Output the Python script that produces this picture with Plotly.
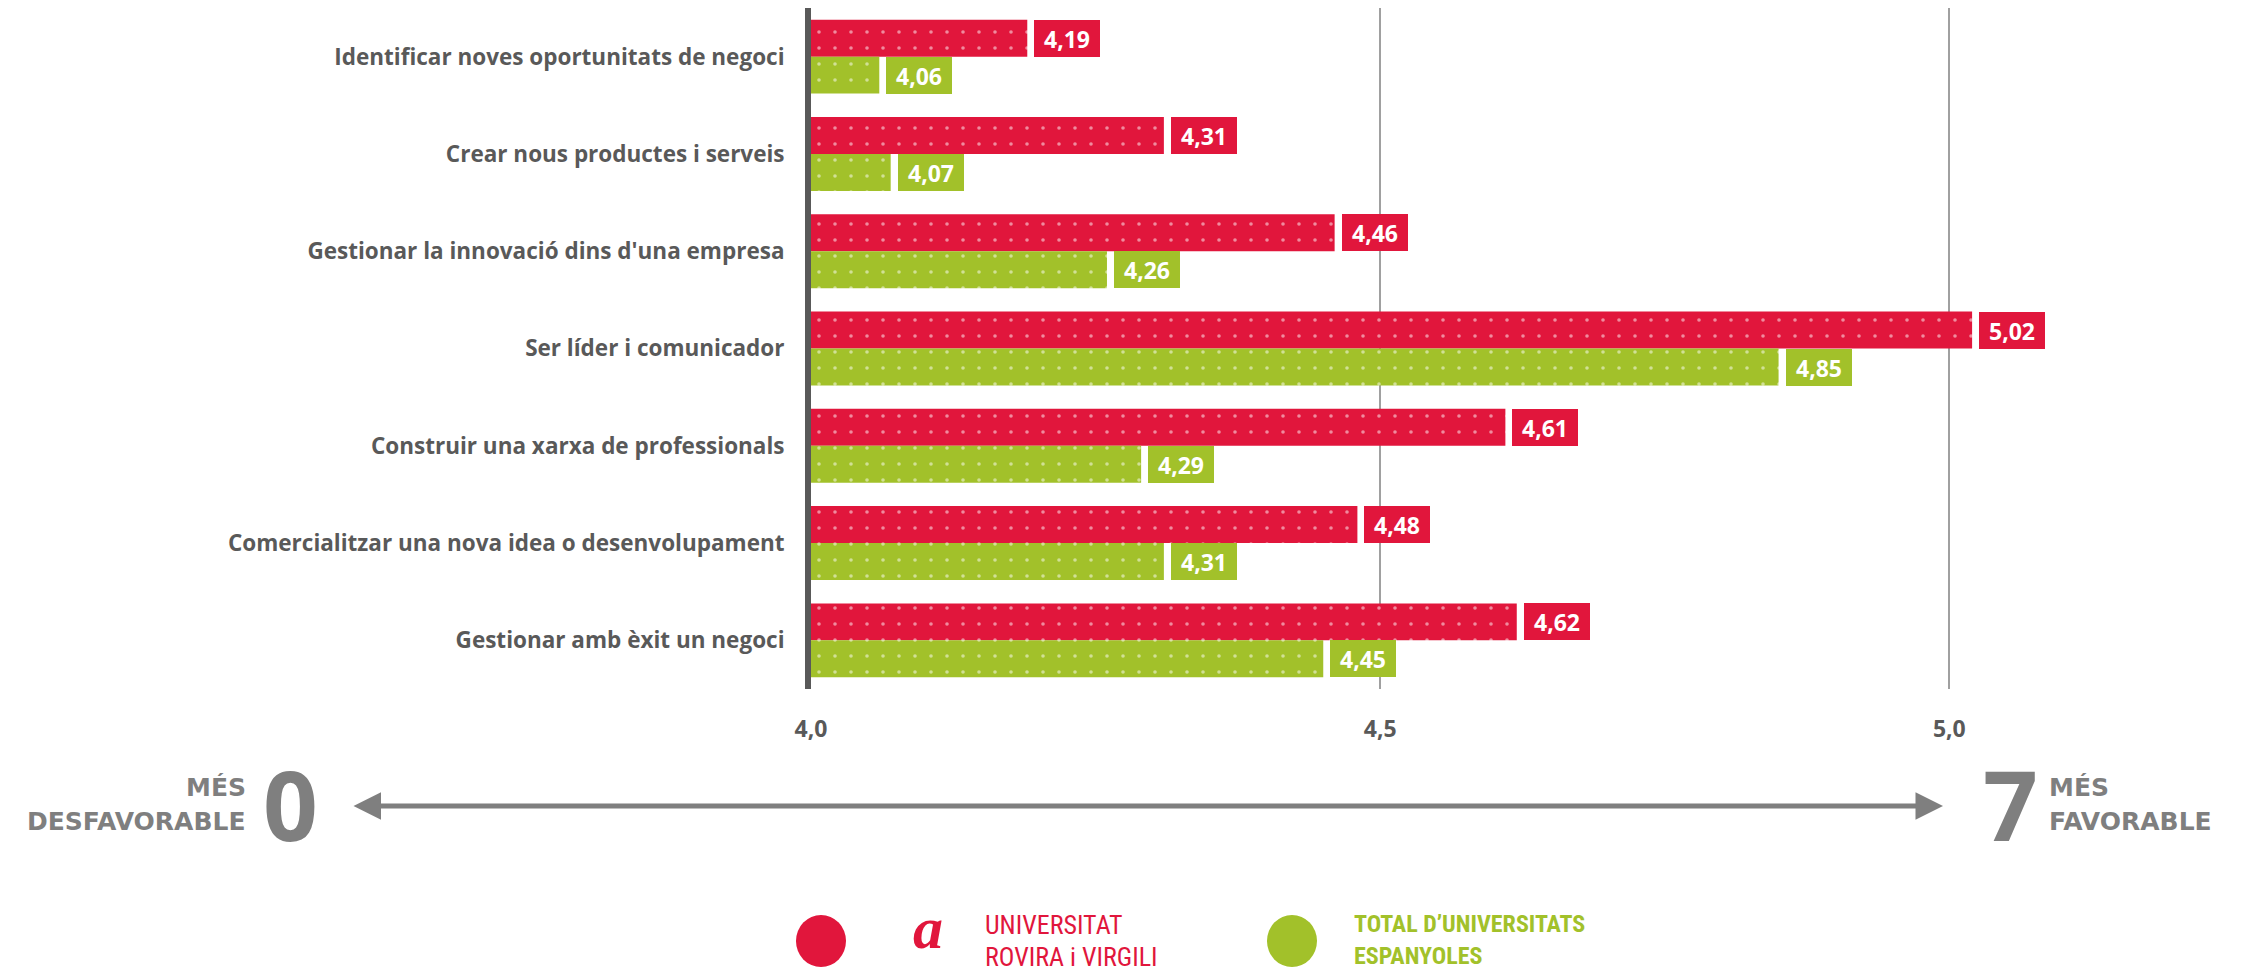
import plotly.graph_objects as go

# categories top to bottom
categories = [
    "Identificar noves oportunitats de negoci",
    "Crear nous productes i serveis",
    "Gestionar la innovació dins d'una empresa",
    "Ser líder i comunicador",
    "Construir una xarxa de professionals",
    "Comercialitzar una nova idea o desenvolupament",
    "Gestionar amb èxit un negoci",
]
urv_values = [4.19, 4.31, 4.46, 5.02, 4.61, 4.48, 4.62]
spain_values = [4.06, 4.07, 4.26, 4.85, 4.29, 4.31, 4.45]
x_ticks = [4.0, 4.5, 5.0]
x_tick_text = ["4,0", "4,5", "5,0"]

RED = "#E1163C"
GREEN = "#A2C12A"
GREY = "#595959"
LIGHT_GREY = "#7F7F7F"
FONT = "'Open Sans', Lato, sans-serif"
WIDE = "'DejaVu Sans', sans-serif"
NARROW = "'Liberation Sans Narrow', 'Roboto Condensed', sans-serif"

# the page body has an 8px margin, so the figure sits at (8, 8)
OFF = 8
W, H = 2252 - OFF, 973 - OFF
L, R, T, B = 803, 75, 0, 284
PW, PH = W - L - R, H - T - B


def xp(px):
    # screen pixel -> paper coordinate
    return (px - OFF - L) / PW


def yp(py):
    return (T + PH - (py - OFF)) / PH


def fmt(v):
    return f"{v:.2f}".replace(".", ",")


fig = go.Figure()

for name, vals, col in [("URV", urv_values, RED), ("Total", spain_values, GREEN)]:
    fig.add_trace(go.Bar(
        y=categories, x=vals, name=name, orientation="h",
        marker=dict(color=col, line=dict(width=0),
                    pattern=dict(shape=".", fgcolor="white", size=16, solidity=0.04)),
        showlegend=False, hoverinfo="x+y",
    ))

# value boxes next to bar ends
annotations = []
for vals, col, shift in [(urv_values, RED, 18.5), (spain_values, GREEN, -18.5)]:
    for cat, v in zip(categories, vals):
        annotations.append(dict(
            x=v, y=cat, xref="x", yref="y", xanchor="left", yanchor="middle",
            xshift=7, yshift=shift, text=f"<b>{fmt(v)}</b>", showarrow=False,
            bgcolor=col, width=66, height=37, borderpad=0, borderwidth=0,
            font=dict(family=FONT, size=23, color="white"),
        ))

# scale explanation underneath
grey_font = dict(family=WIDE, color=LIGHT_GREY)
big_font = dict(family=FONT, size=96, color=LIGHT_GREY)
annotations += [
    dict(x=xp(1943), y=yp(806), xref="paper", yref="paper", text="",
         showarrow=True, axref="pixel", ayref="pixel", ax=-(1943 - 352), ay=0,
         arrowhead=2, arrowside="end+start", arrowwidth=5, arrowsize=1.1,
         arrowcolor=LIGHT_GREY),
    dict(x=xp(248), y=yp(787), xref="paper", yref="paper", xanchor="right",
         yanchor="middle", showarrow=False, text="<b>MÉS</b>",
         font=dict(size=25, **grey_font)),
    dict(x=xp(248), y=yp(821), xref="paper", yref="paper", xanchor="right",
         yanchor="middle", showarrow=False, text="<b>DESFAVORABLE</b>",
         font=dict(size=25, **grey_font)),
    dict(x=xp(290), y=yp(803), xref="paper", yref="paper", xanchor="center",
         yanchor="middle", showarrow=False, text="<b>0</b>", font=big_font),
    dict(x=xp(2010), y=yp(803), xref="paper", yref="paper", xanchor="center",
         yanchor="middle", showarrow=False, text="<b>7</b>", font=big_font),
    dict(x=xp(2047), y=yp(787), xref="paper", yref="paper", xanchor="left",
         yanchor="middle", showarrow=False, text="<b>MÉS</b>",
         font=dict(size=25, **grey_font)),
    dict(x=xp(2047), y=yp(821), xref="paper", yref="paper", xanchor="left",
         yanchor="middle", showarrow=False, text="<b>FAVORABLE</b>",
         font=dict(size=25, **grey_font)),
]

# custom legend (the URV emblem is only hinted at with a red italic "a")
annotations.append(dict(
    x=xp(928), y=yp(928), xref="paper", yref="paper", xanchor="center",
    yanchor="middle", showarrow=False, text="<b><i>a</i></b>",
    font=dict(family="Liberation Serif, serif", size=60, color=RED)))
for line, py in [("UNIVERSITAT", 925), ("ROVIRA i VIRGILI", 957)]:
    annotations.append(dict(
        x=xp(983), y=yp(py), xref="paper", yref="paper", xanchor="left",
        yanchor="middle", showarrow=False, text=line,
        font=dict(family=NARROW, size=26, color=RED)))
for line, py in [("TOTAL D’UNIVERSITATS", 924), ("ESPANYOLES", 956)]:
    annotations.append(dict(
        x=xp(1352), y=yp(py), xref="paper", yref="paper", xanchor="left",
        yanchor="middle", showarrow=False, text=f"<b>{line}</b>",
        font=dict(family=NARROW, size=24, color=GREEN)))

shapes = []
for cx, col in [(821, RED), (1292, GREEN)]:
    shapes.append(dict(
        type="circle", xref="paper", yref="paper", xsizemode="pixel", ysizemode="pixel",
        xanchor=xp(cx), yanchor=yp(941), x0=-25, x1=25, y0=-26, y1=26,
        fillcolor=col, line=dict(width=0),
    ))

fig.update_layout(
    width=W, height=H,
    margin=dict(l=L, r=R, t=T, b=B),
    paper_bgcolor="white", plot_bgcolor="white",
    barmode="group", bargap=0.24, bargroupgap=0,
    font=dict(family=FONT, color=GREY),
    xaxis=dict(
        range=[4.0, 5.2], tickvals=x_ticks, ticktext=[f"<b>{t}</b>" for t in x_tick_text],
        showgrid=True, gridcolor="#A0A0A0", gridwidth=2, zeroline=False,
        ticks="outside", ticklen=19, tickcolor="rgba(0,0,0,0)",
        tickfont=dict(family=FONT, size=23, color=GREY),
        showline=False, fixedrange=True,
    ),
    yaxis=dict(
        autorange="reversed", showgrid=False, zeroline=False,
        showline=True, linewidth=6, linecolor=GREY,
        ticks="outside", ticklen=16, tickcolor="rgba(0,0,0,0)",
        tickvals=categories, ticktext=[f"<b>{c}</b>" for c in categories],
        tickfont=dict(family=FONT, size=22.5, color=GREY),
        fixedrange=True,
    ),
    annotations=annotations,
    shapes=shapes,
)

fig.write_html("out.html")
